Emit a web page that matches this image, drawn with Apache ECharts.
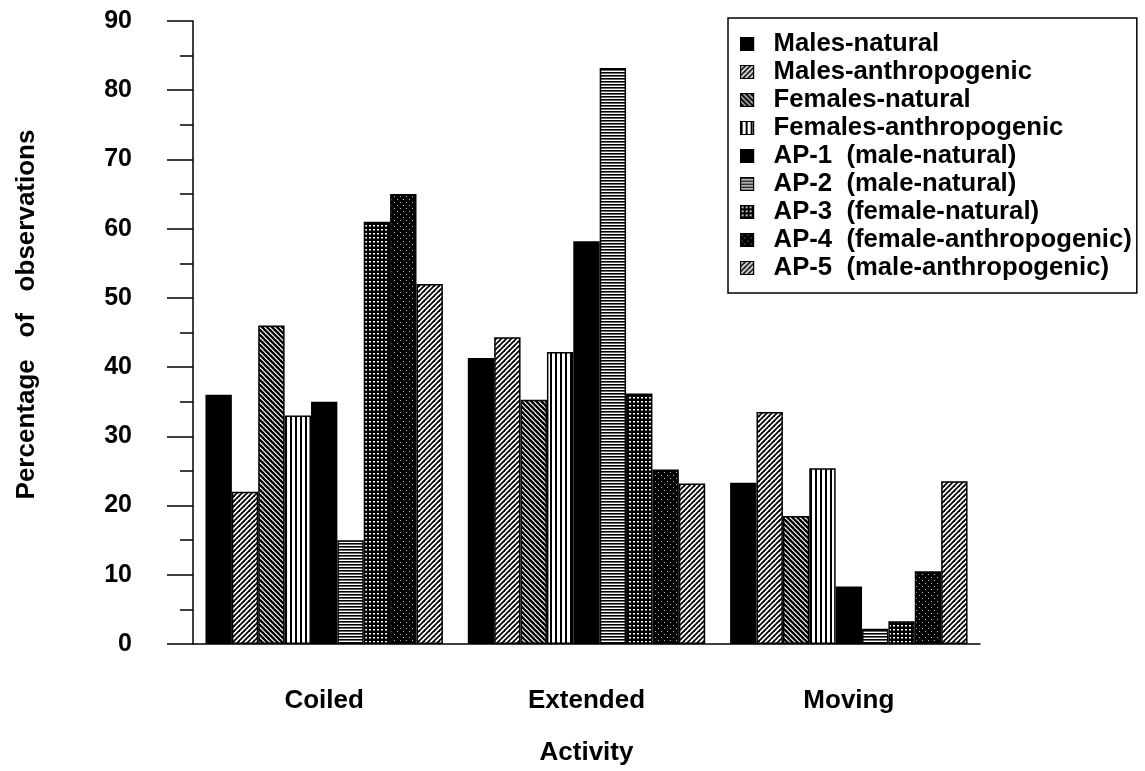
<!DOCTYPE html>
<html>
<head>
<meta charset="utf-8">
<script src="https://cdn.jsdelivr.net/npm/echarts@6/dist/echarts.min.js"></script>
<style>
html,body{margin:0;padding:0;background:#fff;}
#chart{width:1145px;height:771px;}
</style>
</head>
<body>
<div id="chart"></div>
<script>
const categories = ['Coiled', 'Extended', 'Moving'];
const seriesNames = [
  'Males-natural',
  'Males-anthropogenic',
  'Females-natural',
  'Females-anthropogenic',
  'AP-1  (male-natural)',
  'AP-2  (male-natural)',
  'AP-3  (female-natural)',
  'AP-4  (female-anthropogenic)',
  'AP-5  (male-anthropogenic)'
];
const malesNatural        = [36, 41.3, 23.3];
const malesAnthropogenic  = [22, 44.3, 33.5];
const femalesNatural      = [46, 35.3, 18.5];
const femalesAnthropogenic= [33, 42.2, 25.4];
const ap1 = [35, 58.2, 8.3];
const ap2 = [15, 83.2, 2.2];
const ap3 = [61, 36.2, 3.3];
const ap4 = [65, 25.2, 10.5];
const ap5 = [52, 23.2, 23.5];
const yTicks = [0, 10, 20, 30, 40, 50, 60, 70, 80, 90];

const seriesValues = [malesNatural, malesAnthropogenic, femalesNatural, femalesAnthropogenic, ap1, ap2, ap3, ap4, ap5];

function tile(w, h, draw) {
  const c = document.createElement('canvas');
  c.width = w; c.height = h;
  const g = c.getContext('2d');
  draw(g, w, h);
  return { image: c, repeat: 'repeat' };
}
function solid() { return '#000'; }
function diag(up, lw, s) {
  return tile(s, s, (g, w, h) => {
    g.fillStyle = '#fff'; g.fillRect(0, 0, w, h);
    g.strokeStyle = '#000'; g.lineWidth = lw;
    for (let k = -1; k <= 1; k++) {
      g.beginPath();
      if (up) { g.moveTo(-1 + k * s, h + 1); g.lineTo(w + 1 + k * s, -1); }
      else { g.moveTo(-1 + k * s, -1); g.lineTo(w + 1 + k * s, h + 1); }
      g.stroke();
    }
  });
}
function vlines() {
  return tile(5, 4, (g, w, h) => {
    g.fillStyle = '#fff'; g.fillRect(0, 0, w, h);
    g.fillStyle = '#000'; g.fillRect(0, 0, 2, h);
  });
}
function hlines() {
  return tile(4, 3, (g, w, h) => {
    g.fillStyle = '#fff'; g.fillRect(0, 0, w, h);
    g.fillStyle = '#000'; g.fillRect(0, 0, w, 1.6);
  });
}
function gridDots() {
  return tile(4, 4, (g, w, h) => {
    g.fillStyle = '#000'; g.fillRect(0, 0, w, h);
    g.fillStyle = '#fff'; g.fillRect(1, 1, 2, 1.5);
  });
}
function stipple() {
  return tile(6, 6, (g, w, h) => {
    g.fillStyle = '#000'; g.fillRect(0, 0, w, h);
    g.fillStyle = '#bbb'; g.fillRect(1, 1, 1, 1); g.fillRect(4, 4, 1, 1);
  });
}
const fills = [
  solid(), diag(true, 1.8, 5), diag(false, 2.4, 5), vlines(), solid(),
  hlines(), gridDots(), stipple(), diag(true, 1.8, 5)
];

const FONT = '"Liberation Sans", Arial, sans-serif';
const textBase = { fontFamily: FONT, fontWeight: 'bold', fontSize: 25, color: '#000' };
const text26 = Object.assign({}, textBase, { fontSize: 26 });

const chart = echarts.init(document.getElementById('chart'), null, { renderer: 'canvas' });
chart.setOption({
  animation: false,
  backgroundColor: '#fff',
  grid: { left: 193, right: 165, top: 21, bottom: 125, containLabel: false },
  legend: {
    orient: 'vertical',
    left: 728, top: 18,
    data: seriesNames,
    icon: 'rect',
    itemWidth: 13, itemHeight: 13,
    itemGap: 0,
    borderColor: '#000', borderWidth: 1.5, borderRadius: 0,
    padding: [12, 5, 11, 12],
    textStyle: Object.assign({}, textBase, { fontSize: 25.7, lineHeight: 28, padding: [0, 0, 0, 15] }),
    itemStyle: { borderColor: '#000', borderWidth: 1.2 }
  },
  xAxis: {
    type: 'category',
    data: categories,
    name: 'Activity',
    nameLocation: 'middle',
    nameGap: 96,
    nameTextStyle: text26,
    axisLine: { lineStyle: { color: '#000', width: 1.5 } },
    axisTick: { alignWithLabel: true, length: 19, lineStyle: { color: '#000', width: 1.5 } },
    axisLabel: Object.assign({}, text26, { margin: 44 }),
    splitLine: { show: false }
  },
  yAxis: {
    type: 'value',
    min: yTicks[0], max: yTicks[yTicks.length - 1], interval: 10,
    name: 'Percentage   of   observations',
    nameLocation: 'middle',
    nameRotate: 90,
    nameGap: 153,
    nameTextStyle: Object.assign({}, text26, { padding: [0, 0, 0, 36] }),
    axisLine: { show: true, lineStyle: { color: '#000', width: 1.5 } },
    axisTick: { show: true, length: 26, lineStyle: { color: '#000', width: 1.5 } },
    minorTick: { show: true, splitNumber: 2, length: 13, lineStyle: { color: '#000', width: 1.5 } },
    axisLabel: Object.assign({}, textBase, { margin: 61 }),
    splitLine: { show: false }
  },
  series: seriesNames.map((name, i) => ({
    name: name,
    type: 'bar',
    data: seriesValues[i],
    barGap: '0%',
    barCategoryGap: '9.5%',
    itemStyle: { color: fills[i], borderColor: '#000', borderWidth: 1.5 }
  }))
});
</script>
</body>
</html>
